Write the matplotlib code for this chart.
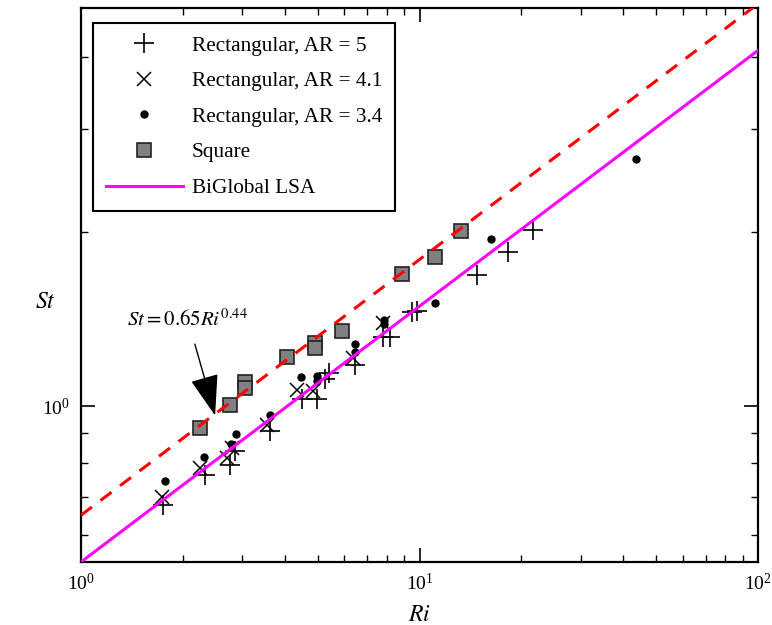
import matplotlib
matplotlib.use("Agg")
import matplotlib.pyplot as plt
from matplotlib.ticker import LogLocator, NullFormatter

plt.rcParams['font.family'] = ['Liberation Serif', 'DejaVu Serif']
plt.rcParams['mathtext.fontset'] = 'stix'

# Rectangular, AR = 5  (plus)
ri_ar5 = [1.75, 2.33, 2.76, 2.85, 3.62, 4.49, 4.97, 5.26, 5.40, 6.45, 7.80, 8.18,
          9.50, 9.83, 14.8, 18.3, 21.6]
st_ar5 = [0.678, 0.763, 0.794, 0.837, 0.906, 1.030, 1.029, 1.117, 1.144, 1.179, 1.319, 1.319,
          1.456, 1.462, 1.684, 1.846, 2.014]

# Rectangular, AR = 4.1  (cross)
ri_ar41 = [1.73, 2.25, 2.70, 2.79, 3.54, 4.36, 4.86, 6.34, 7.78]
st_ar41 = [0.700, 0.783, 0.814, 0.850, 0.930, 1.068, 1.063, 1.210, 1.394]

# Rectangular, AR = 3.4  (dot)
ri_ar34 = [1.77, 2.31, 2.77, 2.88, 3.62, 4.48, 4.97, 4.97, 6.47, 6.47, 7.88, 7.88,
           11.1, 16.3, 43.6]
st_ar34 = [0.745, 0.818, 0.861, 0.896, 0.965, 1.122, 1.128, 1.106, 1.283, 1.240, 1.409, 1.386,
           1.505, 1.944, 2.668]

# Square cavity
ri_sq = [2.25, 2.76, 3.06, 3.06, 4.05, 4.91, 4.91, 5.89, 8.86, 11.1, 13.3]
st_sq = [0.920, 1.007, 1.104, 1.078, 1.215, 1.288, 1.263, 1.349, 1.690, 1.805, 2.004]

# BiGlobal LSA line and fit St = 0.65 Ri^0.44 (end points)
lsa_ri = [1, 100]
lsa_st = [0.54, 4.10]
fit_ri = [1, 100]
fit_st = [0.65, 4.93]

fig = plt.figure(figsize=(7.72, 6.25), dpi=100)
ax = fig.add_axes([0.1049, 0.1008, 0.877, 0.8864])

ax.plot(ri_ar5, st_ar5, '+', color='black', markersize=14, markeredgewidth=1.2,
        linestyle='none', label='Rectangular, AR = 5', zorder=3)
ax.plot(ri_ar41, st_ar41, 'x', color='black', markersize=10, markeredgewidth=1.1,
        linestyle='none', label='Rectangular, AR = 4.1', zorder=3)
ax.plot(ri_ar34, st_ar34, 'o', color='black', markersize=5,
        linestyle='none', label='Rectangular, AR = 3.4', zorder=3)
ax.plot(ri_sq, st_sq, 's', markerfacecolor='#808080', markeredgecolor='#222222',
        markersize=10, markeredgewidth=1.2, linestyle='none', label='Square', zorder=3)
ax.plot(lsa_ri, lsa_st, '-', color='#ff00ff', linewidth=2.2, label='BiGlobal LSA', zorder=4)
ax.plot(fit_ri, fit_st, '--', color='#ff0000', linewidth=2.2, dashes=(4.5, 3.5), zorder=4)

ax.set_xscale('log')
ax.set_yscale('log')
ax.set_xlim(1, 100)
ax.set_ylim(0.54, 4.85)

ax.yaxis.set_major_locator(LogLocator(base=10, numticks=10))
ax.yaxis.set_minor_locator(LogLocator(base=10, subs=range(2, 10), numticks=10))
ax.yaxis.set_minor_formatter(NullFormatter())
ax.xaxis.set_minor_formatter(NullFormatter())

ax.tick_params(which='both', direction='in', top=True, right=True, labelsize=14)
ax.tick_params(which='major', length=10, width=1.2, pad=8)
ax.tick_params(which='minor', length=5, width=1.0)
for sp in ax.spines.values():
    sp.set_linewidth(1.6)

ax.set_xlabel('$Ri$', fontsize=17, labelpad=8)
ax.set_ylabel('$St$', fontsize=17, rotation=0, va='center', ha='center')
ax.yaxis.set_label_coords(-0.053, 0.468)

ax.annotate('$St = 0.65Ri^{0.44}$', xy=(2.49, 0.965), xytext=(2.07, 1.41),
            fontsize=15, ha='center', va='center',
            arrowprops=dict(arrowstyle='-|>,head_length=1.3,head_width=0.45',
                            color='black', lw=1.0, mutation_scale=20, shrinkA=8, shrinkB=0))

leg = ax.legend(loc='upper left', bbox_to_anchor=(0.0177, 0.973), borderaxespad=0,
                fontsize=15.3, frameon=True, fancybox=False, edgecolor='black',
                handlelength=3.65, handletextpad=0.4, labelspacing=0.74,
                borderpad=0.6, framealpha=1)
leg.get_frame().set_linewidth(1.5)

fig.savefig('out.png', dpi=100)
